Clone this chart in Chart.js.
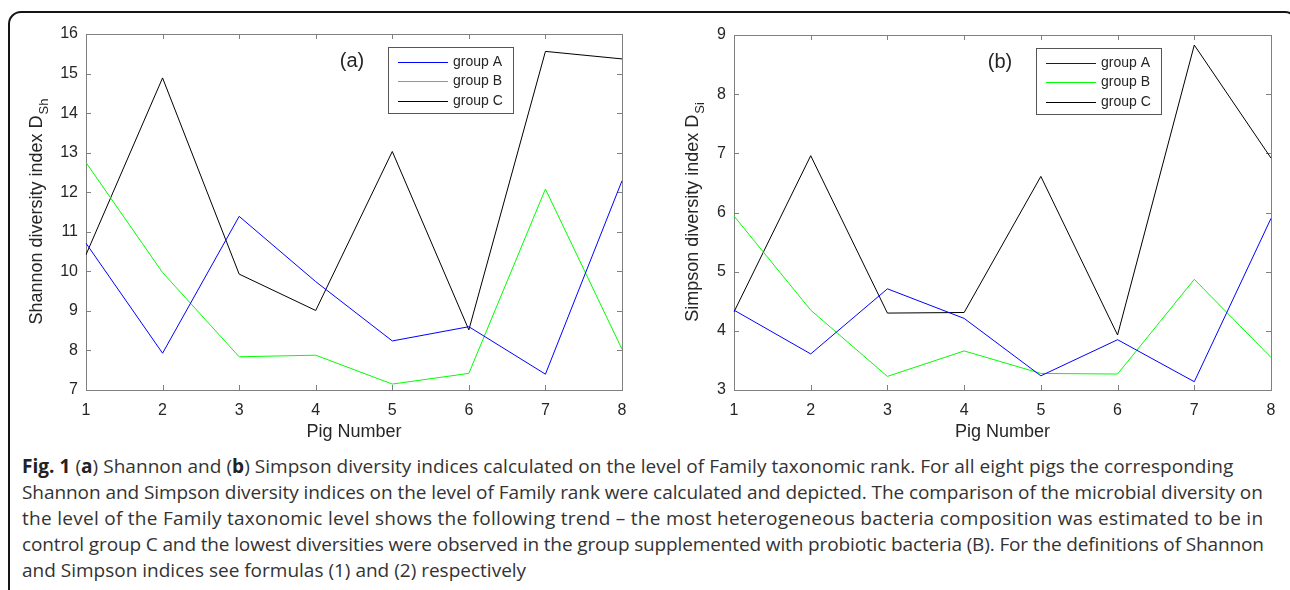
<!DOCTYPE html>
<html>
<head>
<meta charset="utf-8">
<title>Fig. 1 diversity indices</title>
<script src="https://cdn.jsdelivr.net/npm/chart.js@4.4.1/dist/chart.umd.min.js"></script>
<style>
  html, body { margin: 0; padding: 0; background: #fff; }
  body { width: 1290px; height: 590px; position: relative; overflow: hidden; }
  .frame {
    position: absolute; left: 8px; top: 11px; width: 1290px; height: 700px;
    border: 2px solid #151515; border-radius: 13px; box-sizing: border-box;
  }
  canvas { position: absolute; top: 0; }
  #chartA { left: 0; }
  #chartB { left: 645px; }
  .caption {
    position: absolute; left: 22px; top: 453px; width: 1266px;
    font-family: "Open Sans", sans-serif; font-size: 19px; line-height: 26px;
    color: #333; white-space: nowrap;
  }
  .caption b { color: #222; }
  .caption span { display: block; }
</style>
</head>
<body>
<div class="frame"></div>
<canvas id="chartA" width="645" height="450"></canvas>
<canvas id="chartB" width="645" height="450"></canvas>
<div class="caption">
  <span style="letter-spacing:0.04px"><b>Fig. 1</b> (<b>a</b>) Shannon and (<b>b</b>) Simpson diversity indices calculated on the level of Family taxonomic rank. For all eight pigs the corresponding</span>
  <span style="letter-spacing:-0.07px">Shannon and Simpson diversity indices on the level of Family rank were calculated and depicted. The comparison of the microbial diversity on</span>
  <span style="letter-spacing:0.28px">the level of the Family taxonomic level shows the following trend – the most heterogeneous bacteria composition was estimated to be in</span>
  <span style="letter-spacing:-0.13px">control group C and the lowest diversities were observed in the group supplemented with probiotic bacteria (B). For the definitions of Shannon</span>
  <span>and Simpson indices see formulas (1) and (2) respectively</span>
</div>
<script>
// Pig numbers on the x axis
const pigs = ['1', '2', '3', '4', '5', '6', '7', '8'];
const groupNames = ['group A', 'group B', 'group C'];

// (a) Shannon diversity index
const shannonA = [10.71, 7.93, 11.39, 9.74, 8.24, 8.60, 7.40, 12.29];
const shannonB = [12.75, 9.97, 7.84, 7.88, 7.15, 7.42, 12.08, 8.03];
const shannonC = [10.42, 14.89, 9.93, 9.01, 13.03, 8.52, 15.56, 15.37];
const shannonTicks = [7, 8, 9, 10, 11, 12, 13, 14, 15, 16];

// (b) Simpson diversity index
const simpsonA = [4.35, 3.61, 4.71, 4.21, 3.24, 3.85, 3.14, 5.90];
const simpsonB = [5.94, 4.35, 3.23, 3.66, 3.28, 3.27, 4.87, 3.55];
const simpsonC = [4.32, 6.96, 4.30, 4.31, 6.61, 3.93, 8.83, 6.92];
const simpsonTicks = [3, 4, 5, 6, 7, 8, 9];

const LINE_COLOURS = ['#0000ff', '#00ff00', '#000000'];
const AXIS_GREY = '#808080';
const TEXT_COL = '#262626';
const FONT = '"Liberation Sans", Arial, sans-serif';

// MATLAB-ish box, inward ticks, legend, panel letter and axis titles
const matlabPlugin = {
  id: 'matlabAxes',
  beforeDatasetsDraw(chart) {
    const { ctx, chartArea: a, scales: { x, y } } = chart;
    ctx.save();
    ctx.strokeStyle = AXIS_GREY;
    ctx.lineWidth = 1;
    ctx.strokeRect(Math.round(a.left) + 0.5, Math.round(a.top) + 0.5,
      Math.round(a.right - a.left), Math.round(a.bottom - a.top));
    ctx.beginPath();
    x.ticks.forEach(t => {
      const px = Math.round(x.getPixelForValue(t.value)) + 0.5;
      ctx.moveTo(px, a.bottom); ctx.lineTo(px, a.bottom - 5);
      ctx.moveTo(px, a.top); ctx.lineTo(px, a.top + 5);
    });
    y.ticks.forEach(t => {
      const py = Math.round(y.getPixelForValue(t.value)) + 0.5;
      ctx.moveTo(a.left, py); ctx.lineTo(a.left + 5, py);
      ctx.moveTo(a.right, py); ctx.lineTo(a.right - 5, py);
    });
    ctx.stroke();
    ctx.restore();
  },
  afterDraw(chart, args, opts) {
    const { ctx, chartArea: a } = chart;
    ctx.save();

    // panel letter
    ctx.fillStyle = TEXT_COL;
    ctx.font = '20px ' + FONT;
    ctx.textAlign = 'center';
    ctx.textBaseline = 'middle';
    ctx.fillText(opts.panel, a.left + 266, a.top + 27);

    // legend box
    const lx = a.left + 302, ly = a.top + 13, lw = 125, lh = 66;
    ctx.fillStyle = '#fff';
    ctx.fillRect(lx, ly, lw, lh);
    ctx.strokeStyle = '#555';
    ctx.lineWidth = 1;
    ctx.strokeRect(lx + 0.5, ly + 0.5, lw, lh);
    ctx.font = '14px ' + FONT;
    ctx.textAlign = 'left';
    groupNames.forEach((name, i) => {
      const ry = Math.round(ly + 15 + i * 19.4) + 0.5;
      ctx.beginPath();
      ctx.strokeStyle = LINE_COLOURS[i];
      ctx.lineWidth = 1;
      ctx.moveTo(lx + 10, ry);
      ctx.lineTo(lx + 60, ry);
      ctx.stroke();
      ctx.fillStyle = TEXT_COL;
      ctx.fillText(name, lx + 65, ry);
    });

    // x title
    ctx.font = '18px ' + FONT;
    ctx.textAlign = 'center';
    ctx.fillText(opts.xTitle, (a.left + a.right) / 2, a.bottom + 42);

    // y title with subscript, rotated
    ctx.translate(opts.yTitleX, (a.top + a.bottom) / 2);
    ctx.rotate(-Math.PI / 2);
    ctx.font = '18px ' + FONT;
    const mainW = ctx.measureText(opts.yTitle).width;
    ctx.font = '13px ' + FONT;
    const subW = ctx.measureText(opts.ySub).width;
    const start = -(mainW + subW) / 2;
    ctx.textAlign = 'left';
    ctx.font = '18px ' + FONT;
    ctx.fillText(opts.yTitle, start, 0);
    ctx.font = '13px ' + FONT;
    ctx.fillText(opts.ySub, start + mainW + 1, 7);
    ctx.restore();
  }
};

function makeChart(id, series, yMin, yMax, tickValues, area, titles) {
  const datasets = series.map((data, i) => ({
    label: groupNames[i],
    data,
    borderColor: LINE_COLOURS[i],
    backgroundColor: LINE_COLOURS[i],
    borderWidth: 1,
    pointRadius: 0,
    tension: 0,
    fill: false
  }));
  return new Chart(document.getElementById(id), {
    type: 'line',
    data: { labels: pigs, datasets },
    options: {
      responsive: false,
      animation: false,
      events: [],
      layout: { padding: { left: 0, top: area.top, right: area.right, bottom: 0 } },
      plugins: {
        legend: { display: false },
        tooltip: { enabled: false },
        matlabAxes: titles
      },
      scales: {
        x: {
          offset: false,
          grid: { display: false, drawTicks: false },
          border: { display: false },
          ticks: { color: TEXT_COL, font: { family: FONT, size: 16 }, padding: 11, maxRotation: 0 },
          afterFit(scale) { scale.height = area.xHeight; }
        },
        y: {
          min: yMin,
          max: yMax,
          grid: { display: false, drawTicks: false },
          border: { display: false },
          afterBuildTicks(scale) { scale.ticks = tickValues.map(v => ({ value: v })); },
          ticks: { color: TEXT_COL, font: { family: FONT, size: 16 }, padding: 8 },
          afterFit(scale) { scale.width = area.left; }
        }
      }
    },
    plugins: [matlabPlugin]
  });
}

makeChart('chartA', [shannonA, shannonB, shannonC], 7, 16, shannonTicks,
  { left: 86, top: 34, right: 23, xHeight: 60 },
  { panel: '(a)', xTitle: 'Pig Number', yTitle: 'Shannon diversity index D', ySub: 'Sh', yTitleX: 37 });

makeChart('chartB', [simpsonA, simpsonB, simpsonC], 3, 9, simpsonTicks,
  { left: 89, top: 35, right: 19, xHeight: 60 },
  { panel: '(b)', xTitle: 'Pig Number', yTitle: 'Simpson diversity index D', ySub: 'Si', yTitleX: 48 });
</script>
</body>
</html>
